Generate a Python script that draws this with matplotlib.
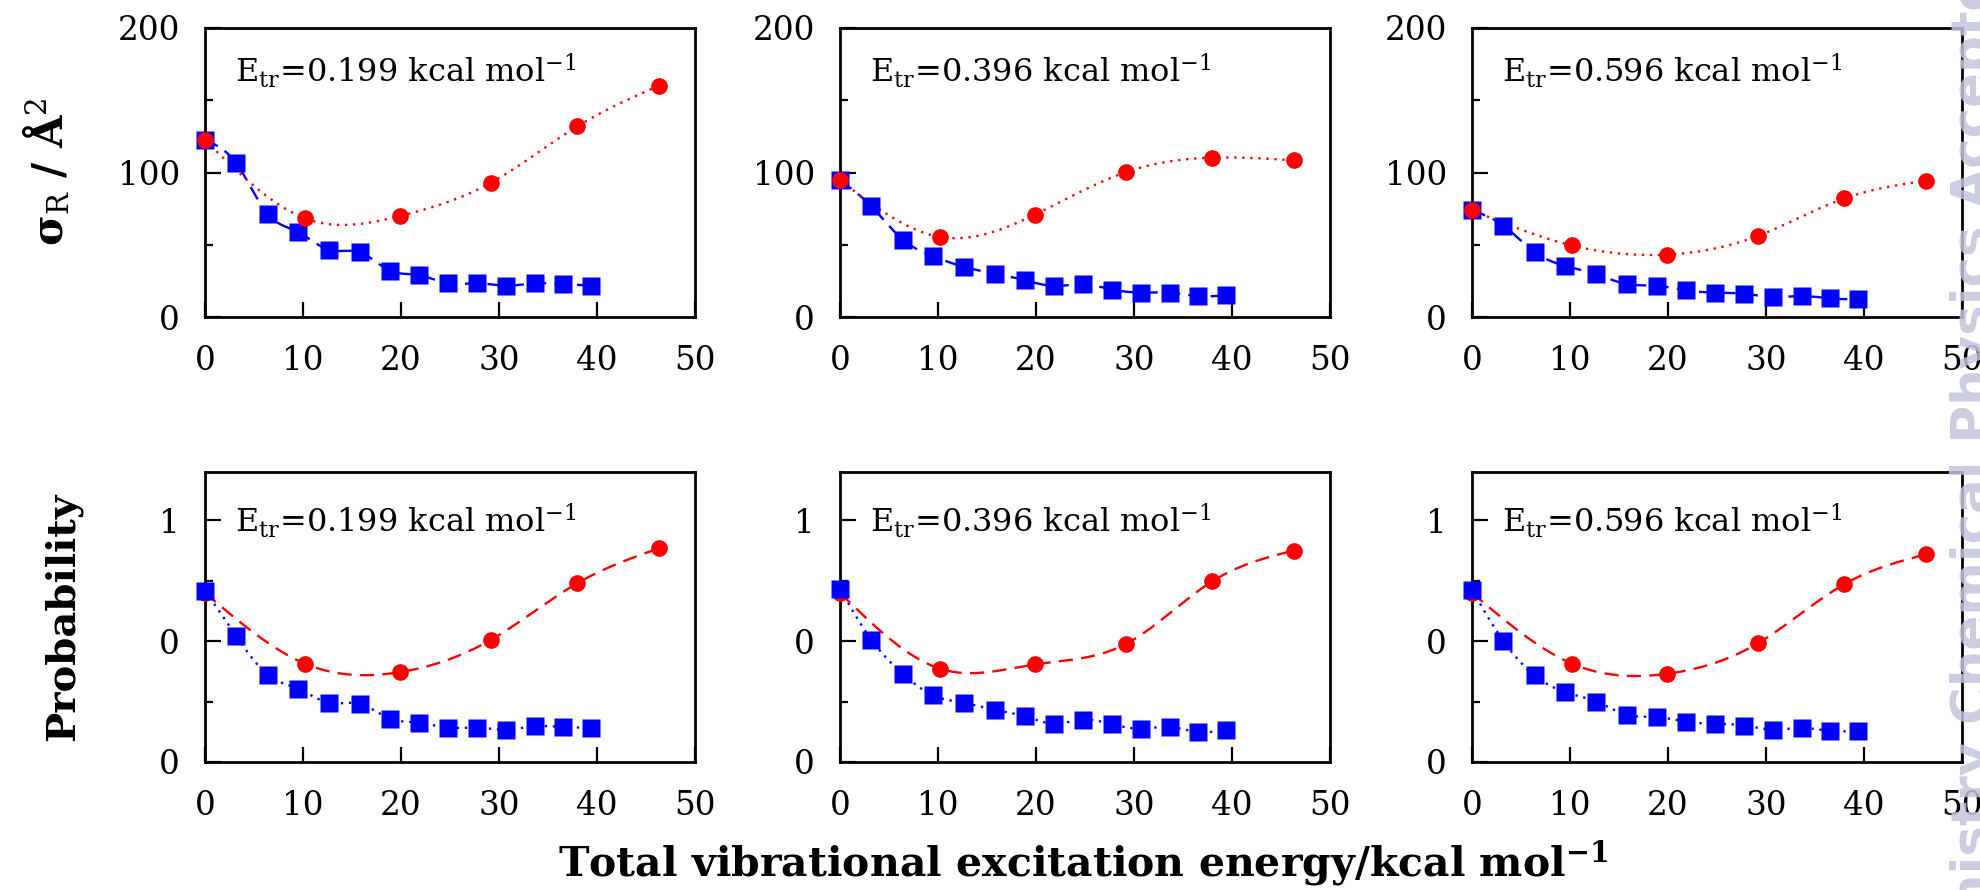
import numpy as np
import matplotlib
matplotlib.use('Agg')
import matplotlib.pyplot as plt

plt.rcParams['font.family'] = 'DejaVu Serif'
plt.rcParams['mathtext.fontset'] = 'dejavuserif'

# collision energies of the three columns
e_tr = ['0.199', '0.396', '0.596']

# vibrational energies (kcal/mol)
x_blue = [0, 3.2, 6.4, 9.5, 12.7, 15.8, 18.9, 21.8, 24.8, 27.8, 30.7, 33.7, 36.5, 39.4]
x_red = [0, 10.2, 19.9, 29.2, 38.0, 46.3]

# reaction cross sections (A^2)
sigma_blue_199 = [122.5, 106.3, 71.3, 58.8, 46.4, 44.8, 32.0, 29.0, 23.3, 23.3, 21.7, 23.3, 22.8, 21.7]
sigma_blue_396 = [94.6, 76.6, 53.6, 42.0, 34.6, 30.0, 25.4, 21.5, 22.6, 19.0, 16.9, 16.9, 14.5, 15.0]
sigma_blue_596 = [73.8, 63.3, 44.8, 35.4, 29.5, 22.8, 21.6, 18.5, 16.9, 16.1, 13.8, 14.5, 12.9, 12.2]
sigma_red_199 = [122.5, 68.3, 69.9, 93.0, 132.0, 160.0]
sigma_red_396 = [94.6, 55.4, 70.9, 100.3, 110.3, 108.4]
sigma_red_596 = [73.8, 49.5, 43.2, 56.2, 82.1, 94.3]

# reaction probabilities
prob_blue_199 = [0.709, 0.521, 0.361, 0.303, 0.245, 0.241, 0.179, 0.163, 0.142, 0.142, 0.134, 0.148, 0.145, 0.142]
prob_blue_396 = [0.716, 0.506, 0.365, 0.276, 0.244, 0.216, 0.189, 0.159, 0.175, 0.156, 0.138, 0.145, 0.124, 0.134]
prob_blue_596 = [0.713, 0.501, 0.358, 0.289, 0.250, 0.195, 0.186, 0.167, 0.158, 0.151, 0.134, 0.141, 0.129, 0.129]
prob_red_199 = [0.70, 0.407, 0.372, 0.506, 0.740, 0.884]
prob_red_396 = [0.70, 0.386, 0.404, 0.489, 0.748, 0.875]
prob_red_596 = [0.70, 0.407, 0.365, 0.492, 0.736, 0.859]

sigma_blue = [sigma_blue_199, sigma_blue_396, sigma_blue_596]
sigma_red = [sigma_red_199, sigma_red_396, sigma_red_596]
prob_blue = [prob_blue_199, prob_blue_396, prob_blue_596]
prob_red = [prob_red_199, prob_red_396, prob_red_596]


def smooth(x, y, n=300):
    # natural cubic spline through the points, like gnuplot "smooth csplines"
    x = np.asarray(x, float)
    y = np.asarray(y, float)
    h = np.diff(x)
    m = len(x)
    A = np.zeros((m, m))
    b = np.zeros(m)
    A[0, 0] = A[-1, -1] = 1
    for i in range(1, m - 1):
        A[i, i - 1] = h[i - 1]
        A[i, i] = 2 * (h[i - 1] + h[i])
        A[i, i + 1] = h[i]
        b[i] = 3 * ((y[i + 1] - y[i]) / h[i] - (y[i] - y[i - 1]) / h[i - 1])
    c = np.linalg.solve(A, b)
    bb = (y[1:] - y[:-1]) / h - h * (2 * c[:-1] + c[1:]) / 3
    d = (c[1:] - c[:-1]) / (3 * h)
    xs = np.linspace(x[0], x[-1], n)
    k = np.clip(np.searchsorted(x, xs) - 1, 0, m - 2)
    t = xs - x[k]
    ys = y[k] + bb[k] * t + c[k] * t ** 2 + d[k] * t ** 3
    return xs, ys


W, H = 1981, 890
fig = plt.figure(figsize=(W / 100, H / 100), dpi=100)

lefts = [205, 840, 1472]
rows = [(28, 317), (472, 762)]

for r, (ytop, ybot) in enumerate(rows):
    for c, left in enumerate(lefts):
        ax = fig.add_axes([left / W, 1 - ybot / H, 490 / W, (ybot - ytop) / H])
        if r == 0:
            yb, yr = sigma_blue[c], sigma_red[c]
            bl_dash, rd_dash = (6, 3.5), (1, 2.4)
        else:
            yb, yr = prob_blue[c], prob_red[c]
            bl_dash, rd_dash = (1, 2.4), (6, 3.5)

        xs, ys = smooth(x_blue, yb)
        ax.plot(xs, ys, color='#0000ff', lw=1.7, dashes=bl_dash, zorder=2)
        xs, ys = smooth(x_red, yr)
        ax.plot(xs, ys, color='#ff0000', lw=1.7, dashes=rd_dash, zorder=2)
        if r == 0:
            ax.plot(x_blue, yb, 's', color='#0000ff', ms=12.5, mec='none', zorder=3, clip_on=False)
            ax.plot(x_red, yr, 'o', color='#ff0000', ms=12, mec='none', zorder=4, clip_on=False)
        else:
            ax.plot(x_red, yr, 'o', color='#ff0000', ms=12, mec='none', zorder=3, clip_on=False)
            ax.plot(x_blue, yb, 's', color='#0000ff', ms=12.5, mec='none', zorder=4, clip_on=False)

        ax.set_xlim(0, 50)
        ax.set_xticks([0, 10, 20, 30, 40, 50])
        if r == 0:
            ax.set_ylim(0, 200)
            ax.set_yticks([0, 100, 200])
            ax.set_yticks([50, 150], minor=True)
            ty = 0.81
        else:
            ax.set_ylim(0, 1.2)
            ax.set_yticks([0, 0.5, 1])
            ax.set_yticklabels(['0', '0', '1'])
            ax.set_yticks([0.25, 0.75], minor=True)
            ty = 0.79

        ax.tick_params(which='both', direction='in', top=False, right=False,
                       labelsize=23.5, width=1.6)
        ax.tick_params(axis='y', which='major', length=11.5, pad=18)
        ax.tick_params(axis='y', which='minor', length=6)
        ax.tick_params(axis='x', which='major', length=11, pad=20)
        for s in ax.spines.values():
            s.set_linewidth(2)

        ax.text(0.061, ty, r'$\mathrm{E_{tr}}$=' + e_tr[c] + r' kcal mol$^{-1}$',
                transform=ax.transAxes, fontsize=23, va='baseline', ha='left')

fig.text(47 / W, 1 - 172 / H, r'σ$_\mathrm{R}$ / Å$^2$', rotation=90,
         fontsize=30, fontweight='bold', ha='center', va='center')
fig.text(63 / W, 1 - 617 / H, 'Probability', rotation=90, fontsize=29,
         fontweight='bold', ha='center', va='center')
fig.text(1083 / W, 1 - 877 / H,
         r'Total vibrational excitation energy/kcal mol$^{\mathbf{-1}}$',
         fontsize=29.5, fontweight='bold', ha='center', va='baseline')

# journal watermark along the right edge
fig.text(1950 / W, 0.50, 'Physical Chemistry Chemical Physics Accepted Manuscript',
         rotation=90, fontsize=37, fontweight='bold', family='DejaVu Sans',
         color='#c3c3de', alpha=0.85, ha='left', va='center', zorder=10)

fig.savefig('out.png', dpi=100)
